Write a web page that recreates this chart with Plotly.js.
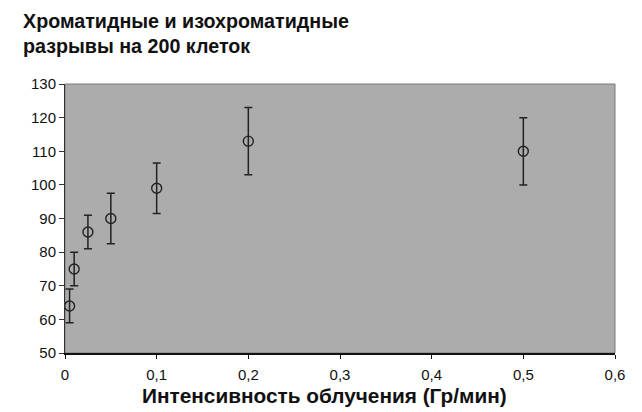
<!DOCTYPE html>
<html>
<head>
<meta charset="utf-8">
<script src="https://cdn.plot.ly/plotly-3.0.1.min.js"></script>
<style>
  html, body { margin: 0; padding: 0; background: #fff; }
  #chart { width: 642px; height: 412px; }
</style>
</head>
<body>
<div id="chart"></div>
<script>
// Dose rate (Gy/min) and chromatid + isochromatid breaks per 200 cells
const doseRate = [0.005, 0.01, 0.025, 0.05, 0.1, 0.2, 0.5];
const breaks   = [64, 75, 86, 90, 99, 113, 110];
const errors   = [5, 5, 5, 7.5, 7.5, 10, 10];

const titleLines = ['Хроматидные и изохроматидные', 'разрывы на 200 клеток'];
const xTitleText = 'Интенсивность облучения (Гр/мин)';

const font = 'Liberation Sans, Arial, sans-serif';

const trace = {
  x: doseRate,
  y: breaks,
  type: 'scatter',
  mode: 'markers',
  marker: {
    symbol: 'circle-open',
    size: 10,
    color: '#222',
    line: { width: 1.4, color: '#222' }
  },
  error_y: {
    type: 'data',
    array: errors,
    visible: true,
    color: '#222',
    thickness: 1.5,
    width: 4
  },
  hoverinfo: 'skip'
};

// plot area in pixels: top 84, bottom 353, left 65, width 550
const plotTop = 84, plotBottom = 353, plotLeft = 65, plotW = 550;
const py = pix => (plotBottom - pix) / (plotBottom - plotTop);
const px = pix => (pix - plotLeft) / plotW;

const titleAnnotations = titleLines.map((line, i) => ({
  text: '<b>' + line + '</b>',
  xref: 'paper', yref: 'paper',
  x: px(21), y: py(21.5 + i * 24),
  xanchor: 'left', yanchor: 'middle',
  showarrow: false,
  font: { family: font, size: 19.7, color: '#111' }
}));

const layout = {
  width: 642,
  height: 412,
  margin: { l: 65, r: 27, t: 84, b: 59 },
  paper_bgcolor: '#ffffff',
  plot_bgcolor: '#acacac',
  separators: ', ',
  showlegend: false,
  font: { family: font, color: '#111', size: 15 },
  xaxis: {
    range: [0, 0.6],
    dtick: 0.1,
    tick0: 0,
    showgrid: false,
    zeroline: false,
    showline: true,
    linecolor: '#111',
    linewidth: 1.5,
    ticks: 'outside',
    ticklen: 4,
    tickcolor: '#111',
    ticklabelstandoff: 3,
    tickfont: { family: font, size: 15, color: '#111' }
  },
  yaxis: {
    range: [50, 130],
    dtick: 10,
    showgrid: false,
    zeroline: false,
    showline: true,
    linecolor: '#333',
    linewidth: 1,
    ticks: 'outside',
    ticklen: 5,
    tickcolor: '#333',
    tickfont: { family: font, size: 15, color: '#111' }
  },
  shapes: [{
    type: 'rect', xref: 'paper', yref: 'paper',
    x0: 0, x1: 1, y0: 0, y1: 1,
    line: { color: '#7a7a7a', width: 1 },
    layer: 'below'
  }],
  annotations: titleAnnotations.concat([{
    text: '<b>' + xTitleText + '</b>',
    xref: 'paper', yref: 'paper',
    x: px(324), y: py(395),
    xanchor: 'center', yanchor: 'middle',
    showarrow: false,
    font: { family: font, size: 20.8, color: '#111' }
  }])
};

Plotly.newPlot('chart', [trace], layout, { displayModeBar: false, staticPlot: true });
</script>
</body>
</html>
